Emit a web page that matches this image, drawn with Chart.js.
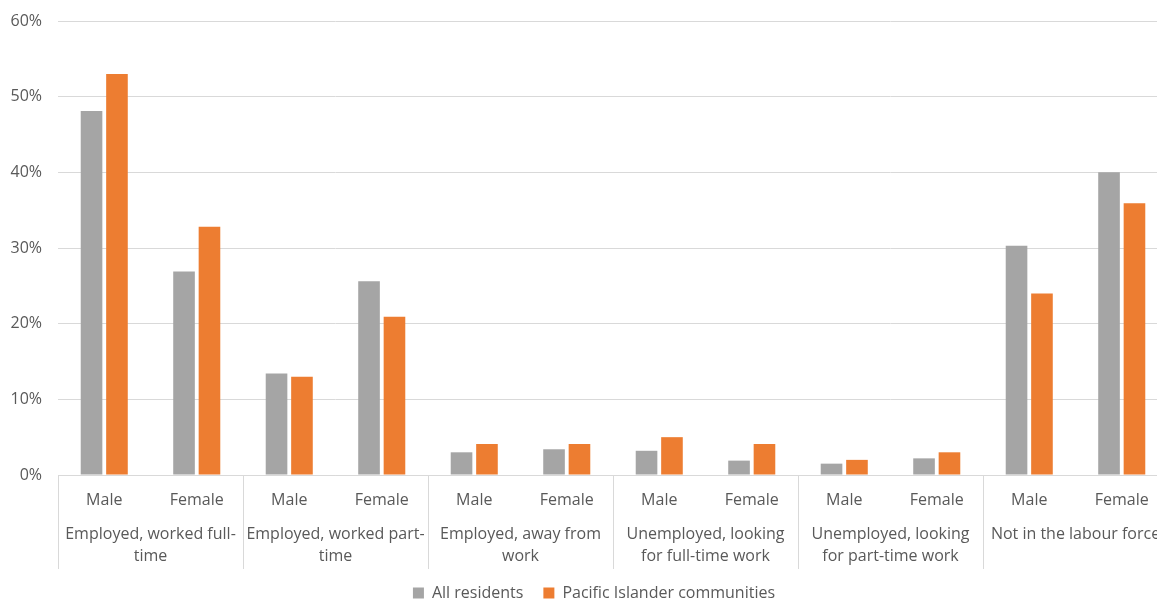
<!DOCTYPE html>
<html>
<head>
<meta charset="utf-8">
<script src="https://cdn.jsdelivr.net/npm/chart.js"></script>
<style>
  html, body { margin: 0; padding: 0; background: #fff; overflow: hidden; }
  #wrap { width: 1172px; height: 601px; }
</style>
</head>
<body>
<div id="wrap"><canvas id="labourChart"></canvas></div>
<script>
// Categories
const sexLabels = ["Male", "Female", "Male", "Female", "Male", "Female",
                   "Male", "Female", "Male", "Female", "Male", "Female"];
const groupLabels = [
    ["Employed, worked full-", "time"],
    ["Employed, worked part-", "time"],
    ["Employed, away from", "work"],
    ["Unemployed, looking", "for full-time work"],
    ["Unemployed, looking", "for part-time work"],
    "Not in the labour force"
];

// Series values (%)
const allResidents = [48.1, 26.9, 13.4, 25.6, 3.0, 3.4, 3.2, 1.9, 1.5, 2.2, 30.3, 40.0];
const pacificIslander = [53.0, 32.8, 13.0, 20.9, 4.1, 4.1, 5.0, 4.1, 2.0, 3.0, 24.0, 35.9];

const textColor = "#595959";
const gridColor = "#d9d9d9";
const fontFamily = "'Open Sans', sans-serif";

// Draws the vertical dividers between the top-level groups
const groupDividers = {
    id: "groupDividers",
    afterLayout(chart) {
        // nudge the legend a bit to the right, like the original
        if (chart.legend) {
            chart.legend.left += 10;
            chart.legend.right += 10;
        }
    },
    afterDraw(chart) {
        const x = chart.scales.x;
        const ctx = chart.ctx;
        const top = chart.chartArea.bottom;
        const bottom = top + 94;
        const edges = [x.left];
        for (let i = 2; i < sexLabels.length; i += 2) {
            edges.push((x.getPixelForValue(i - 1) + x.getPixelForValue(i)) / 2);
        }
        ctx.save();
        ctx.strokeStyle = gridColor;
        ctx.lineWidth = 1;
        edges.forEach(px => {
            const p = Math.round(px) + 0.5;
            ctx.beginPath();
            ctx.moveTo(p, top);
            ctx.lineTo(p, bottom);
            ctx.stroke();
        });
        ctx.restore();
    }
};

const data = {
    labels: sexLabels,
    datasets: [
        {
            label: "All residents",
            data: allResidents,
            backgroundColor: "#a5a5a5",
            categoryPercentage: 0.55,
            barPercentage: 0.85,
        },
        {
            label: "Pacific Islander communities",
            data: pacificIslander,
            backgroundColor: "#ed7d31",
            categoryPercentage: 0.55,
            barPercentage: 0.85,
        },
    ],
};

const config = {
    type: "bar",
    data: data,
    options: {
        responsive: true,
        maintainAspectRatio: false,
        animation: false,
        layout: { padding: { top: 21, left: 0, right: 4, bottom: -10 } },
        plugins: {
            legend: {
                display: true,
                position: "bottom",
                labels: {
                    color: textColor,
                    font: { family: fontFamily, size: 16 },
                    boxWidth: 11,
                    boxHeight: 11,
                    padding: 20,
                },
            },
            tooltip: { enabled: false },
        },
        scales: {
            x: {
                grid: { display: false },
                border: { display: true, color: gridColor },
                ticks: {
                    color: textColor,
                    font: { family: fontFamily, size: 16 },
                    padding: 8,
                    maxRotation: 0,
                    autoSkip: false,
                },
            },
            x2: {
                type: "category",
                labels: groupLabels,
                position: "bottom",
                offset: true,
                grid: { display: false },
                border: { display: false },
                ticks: {
                    color: textColor,
                    font: { family: fontFamily, size: 16, lineHeight: 1.4 },
                    padding: -3,
                    maxRotation: 0,
                    autoSkip: false,
                },
            },
            y: {
                min: 0,
                max: 60,
                grid: { color: gridColor, drawTicks: false },
                border: { display: false },
                ticks: {
                    stepSize: 10,
                    color: textColor,
                    font: { family: fontFamily, size: 16 },
                    padding: 16,
                    callback: v => v + "%",
                },
                afterFit: scale => {
                    scale.width = 58;
                    scale.paddingTop = 0;
                },
            },
        },
    },
    plugins: [groupDividers],
};

const ctx = document.getElementById("labourChart").getContext("2d");
new Chart(ctx, config);
</script>
</body>
</html>
